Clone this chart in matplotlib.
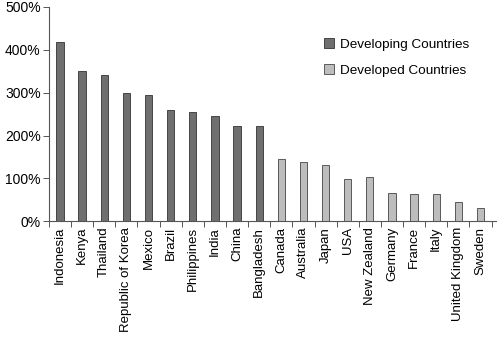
import matplotlib
matplotlib.use("Agg")
import matplotlib.pyplot as plt
from matplotlib.patches import Patch

plt.rcParams['font.family'] = ['Liberation Sans', 'DejaVu Sans']

developing = ["Indonesia", "Kenya", "Thailand", "Republic of Korea", "Mexico",
              "Brazil", "Philippines", "India", "China", "Bangladesh"]
developing_vals = [417, 351, 342, 300, 294, 259, 255, 245, 222, 222]
developed = ["Canada", "Australia", "Japan", "USA", "New Zealand",
             "Germany", "France", "Italy", "United Kingdom", "Sweden"]
developed_vals = [145, 138, 131, 99, 103, 66, 64, 63, 46, 32]

dark = "#6f6f6f"
light = "#bdbdbd"

fig = plt.figure(figsize=(4.99, 3.42), dpi=100)
ax = fig.add_axes([0.098, 0.353, 0.896, 0.627])

labels = developing + developed
x_dev = list(range(len(developing)))
x_ed = list(range(len(developing), len(labels)))
ax.bar(x_dev, developing_vals, width=0.33, color=dark, edgecolor="#333333", linewidth=0.6)
ax.bar(x_ed, developed_vals, width=0.33, color=light, edgecolor="#444444", linewidth=0.6)

ax.set_xlim(-0.5, len(labels) - 0.3)
ax.set_ylim(0, 500)
ax.set_yticks([0, 100, 200, 300, 400, 500])
ax.set_yticklabels([f"{v}%" for v in [0, 100, 200, 300, 400, 500]], fontsize=10)

# category boundaries get the tick marks, names sit at bar centres
ax.set_xticks([i + 0.5 for i in range(-1, len(labels))])
ax.set_xticklabels([])
ax.set_xticks(range(len(labels)), minor=True)
ax.set_xticklabels(labels, minor=True, rotation=90, fontsize=9.5)
ax.tick_params(axis='x', which='minor', length=0, pad=4)
ax.tick_params(axis='x', which='major', length=4, width=0.7, color="#555555")
ax.tick_params(axis='y', length=4, width=0.7, color="#555555", pad=2)

for s in ["top", "right"]:
    ax.spines[s].set_visible(False)
for s in ["left", "bottom"]:
    ax.spines[s].set_color("#555555")
    ax.spines[s].set_linewidth(0.8)

handles = [Patch(facecolor=dark, edgecolor="#333333", linewidth=0.6, label="Developing Countries"),
           Patch(facecolor=light, edgecolor="#444444", linewidth=0.6, label="Developed Countries")]
ax.legend(handles=handles, loc="upper right", bbox_to_anchor=(0.968, 0.91), frameon=False,
          fontsize=9.7, handlelength=0.7, handleheight=0.7, handletextpad=0.5, labelspacing=1.0)

fig.savefig("out.png", dpi=100)
